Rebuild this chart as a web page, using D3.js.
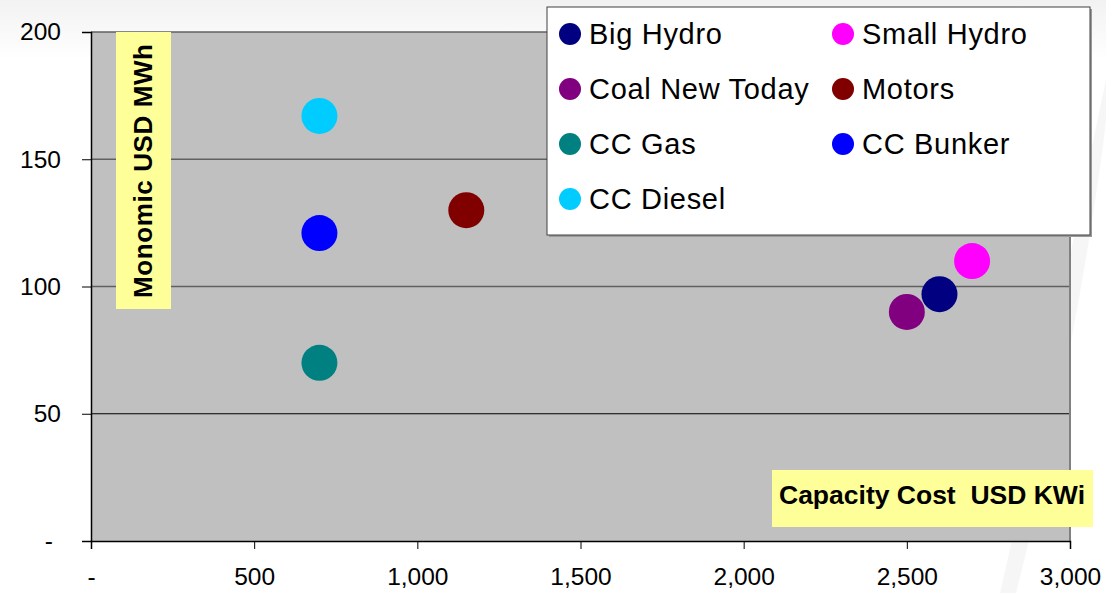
<!DOCTYPE html>
<html>
<head>
<meta charset="utf-8">
<script src="https://cdn.jsdelivr.net/npm/d3@7"></script>
<style>
  body { margin: 0; background: #fff; }
  svg { font-family: "Liberation Sans", Arial, sans-serif; }
</style>
</head>
<body>
<div id="chart"></div>
<script>
// series (capacity cost USD/kW, monomic USD/MWh)
const names = ["Big Hydro", "Small Hydro", "Coal New Today", "Motors", "CC Gas", "CC Bunker", "CC Diesel"];
const capacityCost = [2600, 2700, 2500, 1150, 700, 700, 700];
const monomicCost = [97, 110, 90, 130, 70, 121, 167];
const colors = ["#000080", "#ff00ff", "#800080", "#800000", "#008080", "#0000ff", "#00ccff"];
const xTicks = [0, 500, 1000, 1500, 2000, 2500, 3000];
const yTicks = [0, 50, 100, 150, 200];

const W = 1106, H = 593;
const margin = { top: 32, right: 36, bottom: 52, left: 91 },
  width = W - margin.left - margin.right,
  height = H - margin.top - margin.bottom;

const svg = d3.select("#chart").append("svg")
  .attr("width", W).attr("height", H);

// faint slide background
const defs = svg.append("defs");
const grad = defs.append("linearGradient").attr("id", "bg")
  .attr("x1", 0).attr("y1", 0).attr("x2", 0).attr("y2", 1);
grad.append("stop").attr("offset", 0).attr("stop-color", "#f2f2f2");
grad.append("stop").attr("offset", 1).attr("stop-color", "#ffffff");
svg.append("rect").attr("width", W).attr("height", 60).attr("fill", "url(#bg)");
svg.append("path")
  .attr("d", "M1106,80 C1080,200 1040,420 1000,593 L1016,593 C1060,420 1095,220 1106,120 Z")
  .attr("fill", "#f6f6f6");

const g = svg.append("g")
  .attr("transform", "translate(" + margin.left + "," + margin.top + ")");

const x = d3.scaleLinear().domain([0, 3000]).range([0, width]);
const y = d3.scaleLinear().domain([0, 200]).range([height, 0]);

// plot area
g.append("rect")
  .attr("width", width).attr("height", height)
  .attr("fill", "#c0c0c0");

// gridlines
g.selectAll(".grid")
  .data(yTicks.filter(d => d > 0))
  .enter().append("line")
  .attr("x1", 0).attr("x2", width)
  .attr("y1", d => y(d)).attr("y2", d => y(d))
  .attr("stroke", d => d === 50 ? "#000" : "#606060")
  .attr("stroke-width", d => d === 50 ? 1 : 1.6);

// right border
g.append("line")
  .attr("x1", width).attr("x2", width).attr("y1", 0).attr("y2", height)
  .attr("stroke", "#808080").attr("stroke-width", 2);

const fmt = d => d === 0 ? "-" : d3.format(",")(d);

// x axis
const xAxis = g.append("g")
  .attr("transform", "translate(0," + height + ")")
  .call(d3.axisBottom(x).tickValues(xTicks).tickFormat(fmt).tickSize(8).tickPadding(19));
xAxis.select(".domain").attr("stroke", "#000").attr("stroke-width", 1.5);
xAxis.selectAll("text").attr("font-size", 24.5).attr("fill", "#000")
  .attr("font-family", "Liberation Sans, Arial, sans-serif");

// y axis
const yAxis = g.append("g")
  .call(d3.axisLeft(y).tickValues(yTicks).tickFormat(fmt).tickSize(9).tickPadding(21));
yAxis.select(".domain").attr("stroke", "#000").attr("stroke-width", 1.5);
yAxis.selectAll("text").attr("font-size", 24.5).attr("fill", "#000")
  .attr("font-family", "Liberation Sans, Arial, sans-serif");
yAxis.selectAll(".tick").filter(d => d === 0).select("text").attr("dx", -8);

// axis title boxes
g.append("rect")
  .attr("x", 25).attr("y", 0).attr("width", 55).attr("height", 277)
  .attr("fill", "#ffff99");
g.append("text")
  .attr("transform", "translate(61,266) rotate(-90)")
  .attr("font-size", 26).attr("font-weight", "bold")
  .attr("textLength", 254).attr("lengthAdjust", "spacing")
  .text("Monomic USD MWh");

g.append("rect")
  .attr("x", 681).attr("y", 438).attr("width", 321).attr("height", 57)
  .attr("fill", "#ffff99");
g.append("text")
  .attr("x", 688).attr("y", 472)
  .attr("font-size", 26).attr("font-weight", "bold")
  .attr("textLength", 306).attr("lengthAdjust", "spacingAndGlyphs")
  .attr("xml:space", "preserve")
  .text("Capacity Cost  USD KWi");

// points
g.selectAll(".dot")
  .data(names)
  .enter().append("circle")
  .attr("class", "dot")
  .attr("cx", (d, i) => x(capacityCost[i]))
  .attr("cy", (d, i) => y(monomicCost[i]))
  .attr("r", 18)
  .attr("fill", (d, i) => colors[i]);

// legend
const legend = svg.append("g").attr("transform", "translate(547,7)");
legend.append("rect")
  .attr("x", 2).attr("y", 2).attr("width", 543).attr("height", 228)
  .attr("fill", "#9a9a9a");
legend.append("rect")
  .attr("width", 543).attr("height", 228)
  .attr("fill", "#fff").attr("stroke", "#404040").attr("stroke-width", 1);

const item = legend.selectAll(".item")
  .data(names)
  .enter().append("g")
  .attr("transform", (d, i) => "translate(" + (i % 2 === 0 ? 23 : 296) + "," + (27 + Math.floor(i / 2) * 55) + ")");
item.append("circle").attr("r", 11).attr("fill", (d, i) => colors[i]);
item.append("text")
  .attr("x", 19).attr("y", 10)
  .attr("font-size", 29).attr("letter-spacing", 0.7)
  .text(d => d);
</script>
</body>
</html>
